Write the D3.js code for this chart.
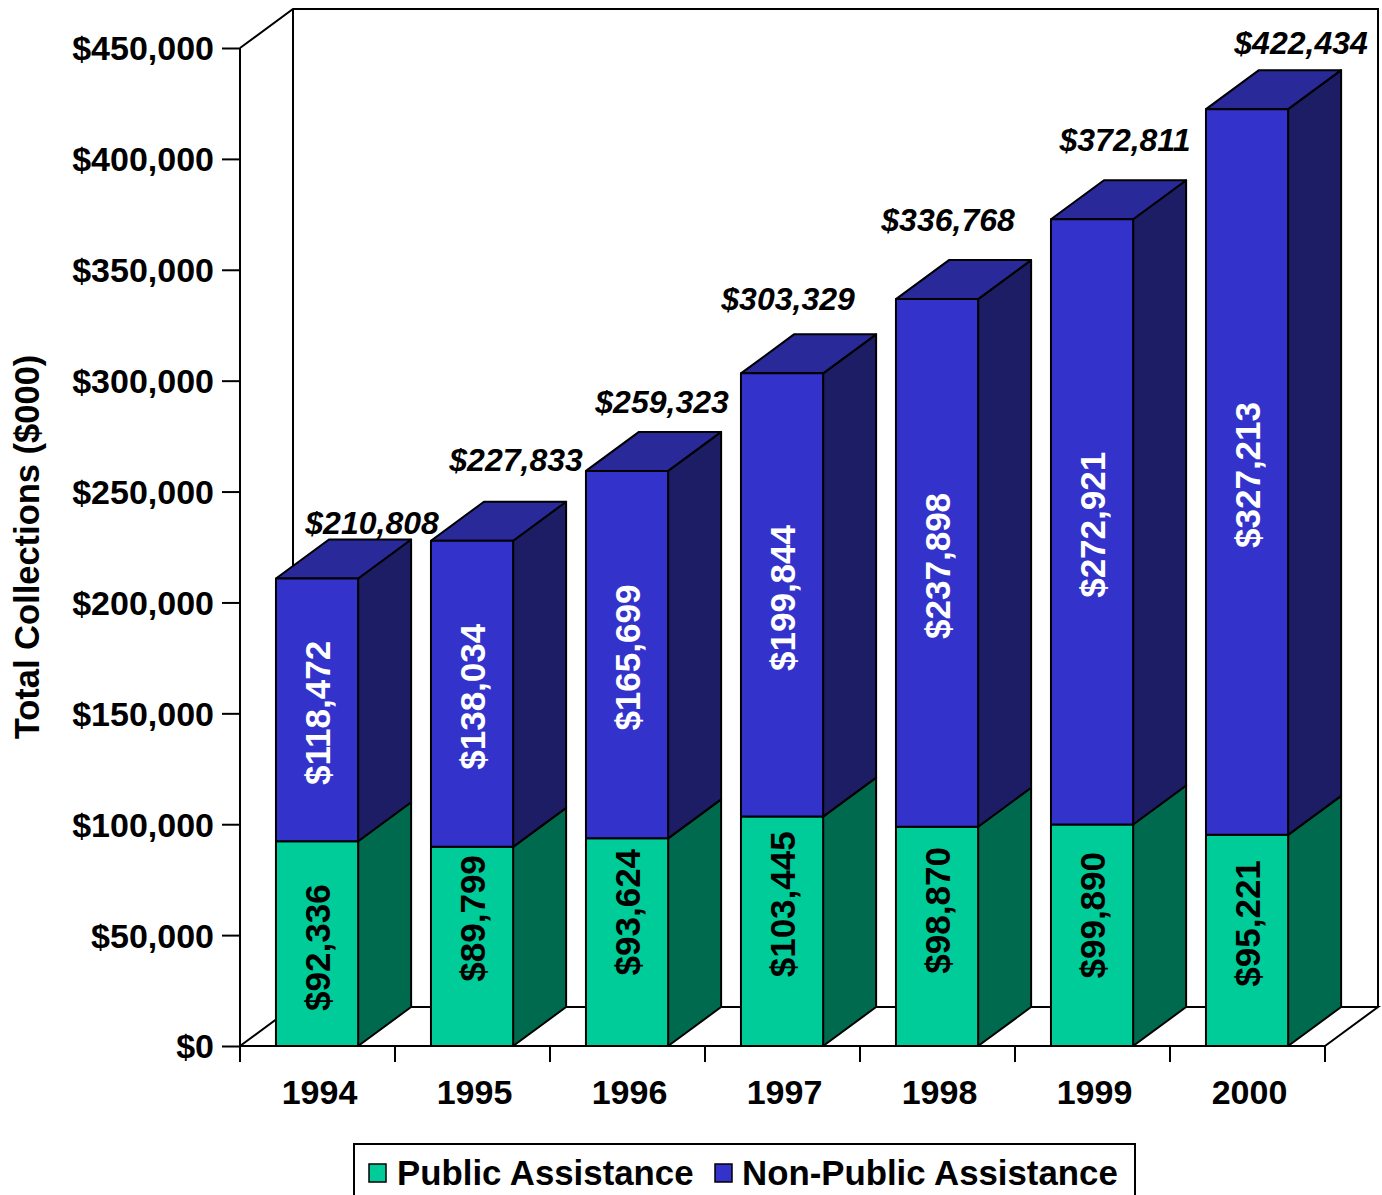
<!DOCTYPE html>
<html>
<head>
<meta charset="utf-8">
<script src="https://cdn.jsdelivr.net/npm/d3@7/dist/d3.min.js"></script>
<style>
  html, body { margin: 0; padding: 0; background: #fff; }
  svg { display: block; font-family: "Liberation Sans", Arial, sans-serif; }
</style>
</head>
<body>
<svg id="chart" width="1382" height="1195"></svg>
<script>
// Collections by year, in thousands of dollars
const years = ["1994", "1995", "1996", "1997", "1998", "1999", "2000"];
const publicAssistance = [92336, 89799, 93624, 103445, 98870, 99890, 95221];
const nonPublicAssistance = [118472, 138034, 165699, 199844, 237898, 272921, 327213];
const totalLabels = [210808, 227833, 259323, 303329, 336768, 372811, 422434];
const yTickValues = [0, 50000, 100000, 150000, 200000, 250000, 300000, 350000, 400000, 450000];
const seriesNames = ["Public Assistance", "Non-Public Assistance"];

// Hand placement of the annotation text (pixels)
const totalNudge = [[55, -5], [44, -31], [35, -19], [6, -24], [11, -29], [33, -29], [54, -16]];
const publicNudge = [4, -28, -30, -27, -26, -20, -17];

const colors = {
  pubFront: "#00CC99", pubSide: "#006A4E",
  npFront: "#3333CC", npSide: "#1D1D66", npTop: "#29299A"
};

const svg = d3.select("#chart");
const DX = 53, DY = -39;          // depth offset of the 3D box
const y = d3.scaleLinear().domain([0, 450000]).range([1046, 48]);
const x = d3.scaleBand().domain(years).range([240, 1325]);
const bw = x.bandwidth();
const barOff = bw * 0.232, barW = bw * 0.53;
const fmt = d3.format(",");

// Walls and floor
const g = svg.append("g").attr("fill", "none").attr("stroke", "#000").attr("stroke-width", 2);
const x0 = 240, x1 = 1325;
g.append("path").attr("d",
  `M${x0},${y(450000)} L${x0 + DX},${y(450000) + DY} L${x1 + DX},${y(450000) + DY} L${x1 + DX},${y(0) + DY}`);
g.append("path").attr("d", `M${x0 + DX},${y(450000) + DY} V${y(0) + DY}`);
g.append("path").attr("d",
  `M${x0},${y(0)} L${x0 + DX},${y(0) + DY} L${x1 + DX},${y(0) + DY} L${x1},${y(0)}`);

// Axes
const yAxis = d3.axisLeft(y).tickValues(yTickValues).tickSize(18).tickFormat(d => "$" + fmt(d));
const ya = svg.append("g").attr("transform", `translate(${x0},0)`).call(yAxis);
ya.select(".domain").attr("stroke", "#000").attr("stroke-width", 2).attr("d", `M0,${y(450000)}V${y(0)}`);
ya.selectAll(".tick line").attr("stroke", "#000").attr("stroke-width", 2);
ya.selectAll(".tick text")
  .attr("x", -26).attr("dy", "0.35em")
  .attr("font-family", "'Liberation Sans', Arial, sans-serif")
  .attr("font-size", 34).attr("font-weight", "bold").attr("fill", "#000");

const xa = svg.append("g");
xa.append("line").attr("x1", x0).attr("x2", x1).attr("y1", y(0)).attr("y2", y(0))
  .attr("stroke", "#000").attr("stroke-width", 2);
const boundaries = years.map(d => x(d)).concat([x1]);
xa.selectAll("line.tk").data(boundaries).join("line").attr("class", "tk")
  .attr("x1", d => d).attr("x2", d => d).attr("y1", y(0)).attr("y2", y(0) + 16)
  .attr("stroke", "#000").attr("stroke-width", 2);
xa.selectAll("text").data(years).join("text")
  .attr("x", d => x(d) + bw / 2 + 2).attr("y", 1104)
  .attr("text-anchor", "middle").attr("font-size", 34).attr("font-weight", "bold")
  .text(d => d);

// Y axis title
svg.append("text")
  .attr("transform", "translate(39,547) rotate(-90)")
  .attr("text-anchor", "middle").attr("font-size", 34.5).attr("font-weight", "bold")
  .text("Total Collections ($000)");

// Stacked 3D bars
const rows = years.map((yr, i) => ({ yr, i, pub: publicAssistance[i], np: nonPublicAssistance[i] }));
const bars = svg.append("g").attr("stroke", "#000").attr("stroke-width", 2).attr("stroke-linejoin", "round");

function box(sel, bx, v0, v1, front, side, top) {
  const yt = y(v1), yb = y(v0);
  sel.append("polygon")
    .attr("points", [[bx + barW, yt], [bx + barW + DX, yt + DY], [bx + barW + DX, yb + DY], [bx + barW, yb]].join(" "))
    .attr("fill", side);
  if (top) {
    sel.append("polygon")
      .attr("points", [[bx, yt], [bx + DX, yt + DY], [bx + barW + DX, yt + DY], [bx + barW, yt]].join(" "))
      .attr("fill", top);
  }
  sel.append("rect").attr("x", bx).attr("y", yt).attr("width", barW).attr("height", yb - yt).attr("fill", front);
}

rows.forEach(r => {
  const bx = x(r.yr) + barOff;
  const gb = bars.append("g");
  box(gb, bx, 0, r.pub, colors.pubFront, colors.pubSide, null);
  box(gb, bx, r.pub, r.pub + r.np, colors.npFront, colors.npSide, colors.npTop);
});

// Segment value labels
const labels = svg.append("g").attr("font-size", 35).attr("font-weight", "bold").attr("text-anchor", "middle");
rows.forEach(r => {
  const cx = x(r.yr) + barOff + barW / 2;
  const pubY = (y(0) + y(r.pub)) / 2 + publicNudge[r.i];
  const npY = (y(r.pub) + y(r.pub + r.np)) / 2 + 3;
  labels.append("text")
    .attr("transform", `translate(${cx},${pubY}) rotate(-90)`).attr("dy", "0.36em")
    .attr("fill", "#000").text("$" + fmt(r.pub));
  labels.append("text")
    .attr("transform", `translate(${cx},${npY}) rotate(-90)`).attr("dy", "0.36em")
    .attr("fill", "#fff").text("$" + fmt(r.np));
});

// Total annotations above each bar
svg.append("g").attr("font-size", 32).attr("font-weight", "bold").attr("font-style", "italic")
  .attr("text-anchor", "middle")
  .selectAll("text").data(rows).join("text")
  .attr("x", r => x(r.yr) + barOff + barW / 2 + totalNudge[r.i][0])
  .attr("y", r => y(r.pub + r.np) + DY + totalNudge[r.i][1])
  .text(r => "$" + fmt(totalLabels[r.i]));

// Legend
const lg = svg.append("g");
lg.append("rect").attr("x", 354).attr("y", 1144).attr("width", 781).attr("height", 70)
  .attr("fill", "#fff").attr("stroke", "#000").attr("stroke-width", 2);
const legendItems = [
  { name: seriesNames[0], color: colors.pubFront, sx: 369, tx: 397 },
  { name: seriesNames[1], color: colors.npFront, sx: 715, tx: 742 }
];
legendItems.forEach(it => {
  lg.append("rect").attr("x", it.sx).attr("y", 1164).attr("width", 17).attr("height", 18)
    .attr("fill", it.color).attr("stroke", "#000").attr("stroke-width", 1.5);
  lg.append("text").attr("x", it.tx).attr("y", 1185)
    .attr("font-size", 34.8).attr("font-weight", "bold").text(it.name);
});
</script>
</body>
</html>
